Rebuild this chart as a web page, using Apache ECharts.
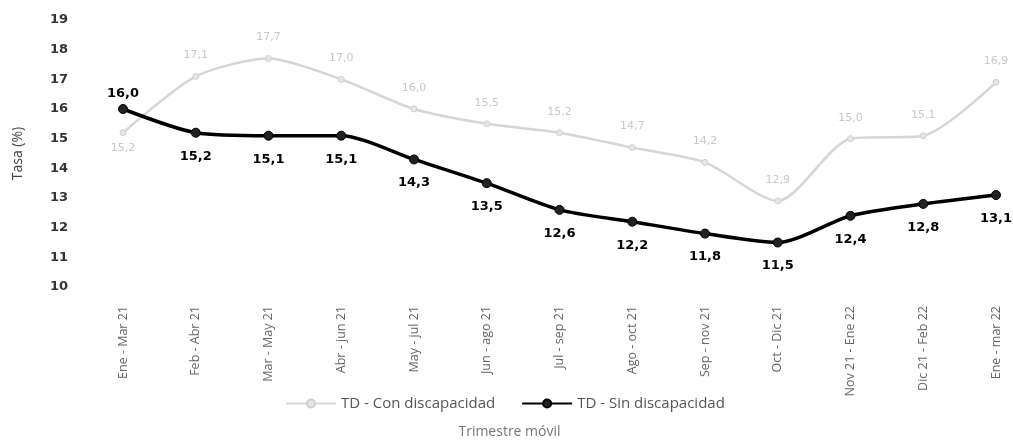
<!DOCTYPE html>
<html>
<head>
<meta charset="utf-8">
<script src="https://cdn.jsdelivr.net/npm/echarts@6/dist/echarts.min.js"></script>
<style>html,body{margin:0;padding:0;background:#fff}#c{width:1013px;height:444px}</style>
</head>
<body>
<div id="c"></div>
<script>
const categories = ['Ene - Mar 21','Feb - Abr 21','Mar - May 21','Abr - jun 21','May - jul 21','Jun - ago 21','Jul - sep 21','Ago - oct 21','Sep - nov 21','Oct - Dic 21','Nov 21 - Ene 22','Dic 21 - Feb 22','Ene - mar 22'];
const conDiscapacidad = [15.2,17.1,17.7,17.0,16.0,15.5,15.2,14.7,14.2,12.9,15.0,15.1,16.9];
const sinDiscapacidad = [16.0,15.2,15.1,15.1,14.3,13.5,12.6,12.2,11.8,11.5,12.4,12.8,13.1];
const yTicks = {min:10, max:19, interval:1};

const fmt = p => Number(p.value).toFixed(1).replace('.', ',');
const con = conDiscapacidad.map((v,i)=> i===0 ? {value:v, label:{position:'bottom', distance:6}} : v);
const sin = sinDiscapacidad.map((v,i)=> i===0 ? {value:v, label:{position:'top', distance:4}} : v);

const chart = echarts.init(document.getElementById('c'));
chart.setOption({
  animation:false,
  grid:{left:123, right:17, top:20, bottom:148, containLabel:false},
  legend:{
    bottom:28, left:280, itemWidth:50, itemHeight:10, itemGap:26,
    textStyle:{color:'#555', fontSize:15, fontFamily:'Open Sans'},
    data:['TD - Con discapacidad','TD - Sin discapacidad']
  },
  xAxis:{
    type:'category', data:categories, boundaryGap:false,
    name:'Trimestre móvil', nameLocation:'middle', nameGap:138,
    nameTextStyle:{color:'#777', fontSize:14, fontFamily:'Open Sans', padding:[0,100,0,0]},
    axisLine:{show:false}, axisTick:{show:false},
    axisLabel:{rotate:90, interval:0, color:'#666', fontSize:12.5, fontFamily:'Open Sans', margin:19}
  },
  yAxis:{
    type:'value', min:yTicks.min, max:yTicks.max, interval:yTicks.interval,
    name:'Tasa (%)', nameLocation:'middle', nameGap:98, nameRotate:90,
    nameTextStyle:{color:'#444', fontSize:14, fontFamily:'Open Sans'},
    axisLine:{show:false}, axisTick:{show:false}, splitLine:{show:false},
    axisLabel:{color:'#333', fontSize:13, fontWeight:'bold', fontFamily:'DejaVu Sans', margin:55}
  },
  series:[
    {
      name:'TD - Con discapacidad', type:'line', data:con, smooth:0.25,
      symbol:'circle', symbolSize:6,
      lineStyle:{color:'#d6d6d6', width:2.5},
      itemStyle:{color:'#e6e6e6', borderColor:'#cfcfcf', borderWidth:1},
      label:{show:true, position:'top', distance:12, formatter:fmt, color:'#c8c8c8', fontSize:11, fontFamily:'DejaVu Sans'}
    },
    {
      name:'TD - Sin discapacidad', type:'line', data:sin, smooth:0.25,
      symbol:'circle', symbolSize:9,
      lineStyle:{color:'#000', width:3.5},
      itemStyle:{color:'#222', borderColor:'#000', borderWidth:1},
      label:{show:true, position:'bottom', distance:12, formatter:fmt, color:'#000', fontSize:13, fontWeight:'bold', fontFamily:'DejaVu Sans'},
      z:3
    }
  ]
});
</script>
</body>
</html>
